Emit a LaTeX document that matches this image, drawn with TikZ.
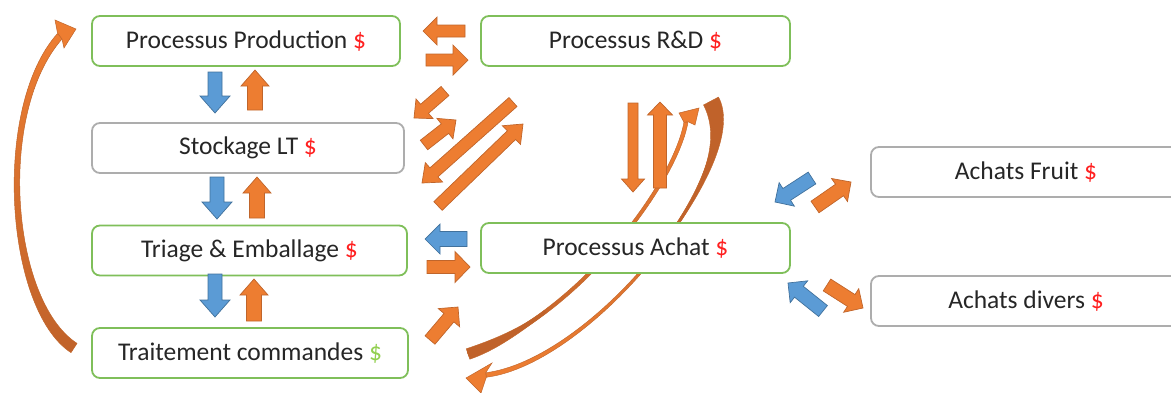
\documentclass[tikz,border=0pt]{standalone}
\usepackage{fontspec}
\setmainfont{Carlito}
\usetikzlibrary{calc}

\definecolor{ofill}{HTML}{ED7D31}
\definecolor{oedge}{HTML}{C0652B}
\definecolor{darko}{HTML}{C0622A}
\definecolor{bfill}{HTML}{5B9BD5}
\definecolor{bedge}{HTML}{41719C}
\definecolor{gborder}{HTML}{7FBF5A}
\definecolor{greyborder}{HTML}{ADADAD}
\definecolor{txt}{HTML}{262626}
\definecolor{dred}{HTML}{FF2020}
\definecolor{dgreen}{HTML}{92D050}

\tikzset{
  box/.style={draw=gborder, line width=1.8pt, rounded corners=8pt, fill=white,
    minimum height=50pt, inner sep=0pt, text=txt,
    font=\fontsize{25.5}{30}\selectfont},
  greybox/.style={box, draw=greyborder},
  oarrow/.style={fill=ofill, draw=oedge, line width=0.7pt},
  barrow/.style={fill=bfill, draw=bedge, line width=0.7pt},
}

% Block arrow: [style]{tail}{tip}{shaft half width}{head half width}{head length}
\newcommand\blockarrow[6][oarrow]{%
  \coordinate (baT) at (#2);
  \coordinate (baH) at (#3);
  \coordinate (baB) at ($(baH)!#6pt!(baT)$);
  \filldraw[#1] ($(baT)!#4pt!90:(baH)$) -- ($(baB)!#4pt!-90:(baT)$)
    -- ($(baB)!#5pt!-90:(baT)$) -- (baH) -- ($(baB)!#5pt!90:(baT)$)
    -- ($(baB)!#4pt!90:(baT)$) -- ($(baT)!#4pt!-90:(baH)$) -- cycle;
}

% Tapered ribbon along a Bezier curve: {P0}{P1}{P2}{P3}{half width at P0}{half width at P3}{style}
\newcommand\ribbon[7]{%
  \coordinate (rbA) at (#1); \coordinate (rbB) at (#2);
  \coordinate (rbC) at (#3); \coordinate (rbD) at (#4);
  \coordinate (rbN) at ($(rbA)!1pt!90:(rbB)$);
  \coordinate (rbM) at ($(rbD)!1pt!-90:(rbC)$);
  \path[#7] ($(rbA)+#5*(rbN)-#5*(rbA)$)
    .. controls ($(rbB)+#5*(rbN)-#5*(rbA)$) and ($(rbC)+#6*(rbM)-#6*(rbD)$)
    .. ($(rbD)+#6*(rbM)-#6*(rbD)$)
    -- ($(rbD)-#6*(rbM)+#6*(rbD)$)
    .. controls ($(rbC)-#6*(rbM)+#6*(rbD)$) and ($(rbB)-#5*(rbN)+#5*(rbA)$)
    .. ($(rbA)-#5*(rbN)+#5*(rbA)$) -- cycle;
}

\begin{document}
\begin{tikzpicture}[x=1pt, y=-1pt]
\useasboundingbox (0,0) rectangle (1171,392);
\clip (0,0) rectangle (1171,392);

% ---- curved arrows (drawn first, boxes cover them) ----
% loop from order processing back to production
\ribbon{74,348}{8,305}{-6,110}{60,36}{5.5}{3.5}{top color=ofill, bottom color=darko, draw=oedge, line width=0.5pt}
\filldraw[oarrow, line width=0.5pt] (57.5,33) -- (55,20) -- (76,29) -- (64,48) -- (62,39) -- cycle;

% R&D down to order processing
\ribbon{710,102}{745,175}{590,362}{486,375}{2.3}{2.3}{top color=darko, bottom color=ofill, draw=oedge, line width=0.4pt}
\ribbon{711,101}{727,131.2}{709,178.6}{676.2,225.9}{8.5}{1.2}{fill=darko, draw=oedge, line width=0.4pt}
\filldraw[oarrow, line width=0.5pt] (485.7,372.7) -- (492,363) -- (466,378) -- (481,393) -- (486.3,377.3) -- cycle;

% order processing up to R&D
\ribbon{468,354}{575,318}{675,185}{686,122}{2}{2}{top color=ofill, bottom color=darko, draw=oedge, line width=0.4pt}
\ribbon{468,354}{494.75,345}{521.06,330}{545.6,311.5}{5.5}{1.5}{fill=darko, draw=oedge, line width=0.4pt}
\filldraw[oarrow, line width=0.5pt] (684,122.3) -- (679,113) -- (699,108) -- (695,125) -- (688,121.7) -- cycle;

% ---- process boxes ----
\node[box, minimum width=308pt] (prod) at (246,41) {Processus Production \textcolor{dred}{\$}};
\node[box, minimum width=309pt] (rnd) at (635.5,41) {Processus R\&D \textcolor{dred}{\$}};
\node[greybox, minimum width=312pt] (stock) at (248,148) {Stockage LT \textcolor{dred}{\$}};
\node[box, minimum width=315pt] (triage) at (249.5,250.5) {Triage \& Emballage \textcolor{dred}{\$}};
\node[box, minimum width=316pt] (cmd) at (250,353) {Traitement commandes \textcolor{dgreen}{\$}};
\node[box, minimum width=309pt] (achat) at (635.5,248) {Processus Achat \textcolor{dred}{\$}};
\node[greybox, minimum width=310pt] (fruit) at (1026,172) {Achats Fruit \textcolor{dred}{\$}};
\node[greybox, minimum width=310pt] (divers) at (1026,301) {Achats divers \textcolor{dred}{\$}};

% ---- block arrows, left column ----
\blockarrow[barrow]{215,72}{215,113}{7}{15}{17}
\blockarrow{255,110}{255,70}{7.5}{14}{16}
\blockarrow[barrow]{217,177}{217,219}{7}{15}{17}
\blockarrow{257,218}{257,177}{7.5}{14}{16}
\blockarrow[barrow]{215,274}{215,317}{7}{15}{17}
\blockarrow{254,321}{254,279}{7.5}{14}{16}

% production <-> R&D
\blockarrow{465,31}{423,31}{6}{14}{14}
\blockarrow{426,60}{468,60}{6}{15}{15}

% diagonals between storage / sorting and R&D
\blockarrow{445,91}{414,118}{6}{13}{14}
\blockarrow{424,145}{456,120}{6}{13}{14}
\blockarrow{513,102}{422,183}{6}{13}{16}
\blockarrow{438,206}{523,124}{6}{13}{16}

% R&D <-> purchasing
\blockarrow{633,103}{633,192}{5}{11.5}{13}
\blockarrow{660,188}{660,102}{6.5}{12.5}{13}

% sorting <-> purchasing
\blockarrow[barrow]{467,239}{425,239}{7.5}{15}{15}
\blockarrow{427,267}{470,267}{6.5}{15.5}{15}
\blockarrow{430,340}{458,307}{6.5}{14}{14}

% purchasing <-> suppliers
\blockarrow[barrow]{812,178}{775,202}{7}{14}{14}
\blockarrow{815,207}{851,182}{7}{14}{14}
\blockarrow[barrow]{823,311}{788,283}{7}{14}{14}
\blockarrow{827,285}{863,308}{7}{14}{14}

\end{tikzpicture}
\end{document}
